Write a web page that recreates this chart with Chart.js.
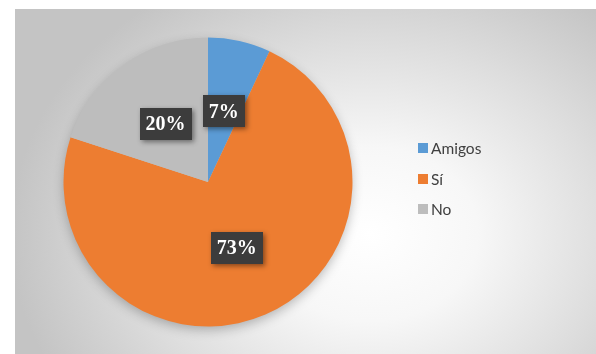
<!DOCTYPE html>
<html>
<head>
<meta charset="utf-8">
<script src="https://cdn.jsdelivr.net/npm/chart.js@4/dist/chart.umd.min.js"></script>
<style>
  html, body { margin: 0; padding: 0; background: #ffffff; }
  #wrap { position: relative; width: 596px; height: 354px; overflow: hidden; }
  #panel {
    position: absolute; left: 15px; top: 9px; right: 0; bottom: 0;
    background: radial-gradient(ellipse 360px 290px at 355px 225px, #ffffff 0%, #f7f7f7 30%, #dedede 65%, #c4c4c4 100%);
  }
  #pie { position: absolute; left: 0; top: 0; }
  #legend { position: absolute; left: 418px; top: 138px; font-family: Lato, "Open Sans", sans-serif; font-size: 15.5px; color: #404040; }
  .item { position: absolute; left: 0; white-space: nowrap; height: 20px; line-height: 20px; }
  .sw { position: absolute; left: 0; top: 5px; width: 10px; height: 10px; }
  .lbl { position: absolute; left: 13px; top: 0; }
</style>
</head>
<body>
<div id="wrap">
  <div id="panel"></div>
  <canvas id="pie" width="596" height="354"></canvas>
  <div id="legend"></div>
</div>
<script>
// Answers and their shares (percent)
const categories = ["Amigos", "Sí", "No"];
const shares = [7, 73, 20];
const sliceColors = ["#5B9BD5", "#ED7D31", "#BDBDBD"];

// Soft shadow under the whole disc
const discShadow = {
  id: "discShadow",
  beforeDatasetsDraw(chart) {
    const arc = chart.getDatasetMeta(0).data[0];
    if (!arc) return;
    const ctx = chart.ctx;
    ctx.save();
    ctx.shadowColor = "rgba(0,0,0,0.28)";
    ctx.shadowBlur = 12;
    ctx.shadowOffsetY = 4;
    ctx.beginPath();
    ctx.arc(arc.x, arc.y, arc.outerRadius - 1, 0, Math.PI * 2);
    ctx.fillStyle = "#c0c0c0";
    ctx.fill();
    ctx.restore();
  }
};

// Dark value callouts in the middle of each slice
const valueBoxes = {
  id: "valueBoxes",
  afterDatasetsDraw(chart) {
    const ctx = chart.ctx;
    const meta = chart.getDatasetMeta(0);
    const values = chart.data.datasets[0].data;
    ctx.save();
    ctx.font = "bold 20px 'Liberation Serif', 'DejaVu Serif', serif";
    ctx.textAlign = "center";
    ctx.textBaseline = "middle";
    meta.data.forEach((arc, i) => {
      const p = arc.tooltipPosition();
      const text = values[i] + "%";
      const w = ctx.measureText(text).width + 12;
      const h = 32;
      ctx.save();
      ctx.shadowColor = "rgba(0,0,0,0.45)";
      ctx.shadowBlur = 5;
      ctx.shadowOffsetX = 2;
      ctx.shadowOffsetY = 2;
      ctx.fillStyle = "#3c3c3c";
      ctx.fillRect(Math.round(p.x - w / 2), Math.round(p.y - h / 2), Math.round(w), h);
      ctx.restore();
      ctx.fillStyle = "#ffffff";
      ctx.fillText(text, p.x, p.y + 1);
    });
    ctx.restore();
  }
};

new Chart(document.getElementById("pie"), {
  type: "pie",
  data: {
    labels: categories,
    datasets: [{
      data: shares,
      backgroundColor: sliceColors,
      borderWidth: 0
    }]
  },
  options: {
    responsive: false,
    animation: false,
    devicePixelRatio: 1,
    layout: { padding: { left: 63.5, top: 37.5, right: 243.5, bottom: 27.5 } },
    plugins: {
      legend: { display: false },
      tooltip: { enabled: false }
    }
  },
  plugins: [discShadow, valueBoxes]
});

// Legend on the right
const legend = document.getElementById("legend");
categories.forEach((name, i) => {
  const row = document.createElement("div");
  row.className = "item";
  row.style.top = (i * 30.5) + "px";
  const sw = document.createElement("span");
  sw.className = "sw";
  sw.style.background = sliceColors[i];
  const lbl = document.createElement("span");
  lbl.className = "lbl";
  lbl.textContent = name;
  row.appendChild(sw);
  row.appendChild(lbl);
  legend.appendChild(row);
});
</script>
</body>
</html>
